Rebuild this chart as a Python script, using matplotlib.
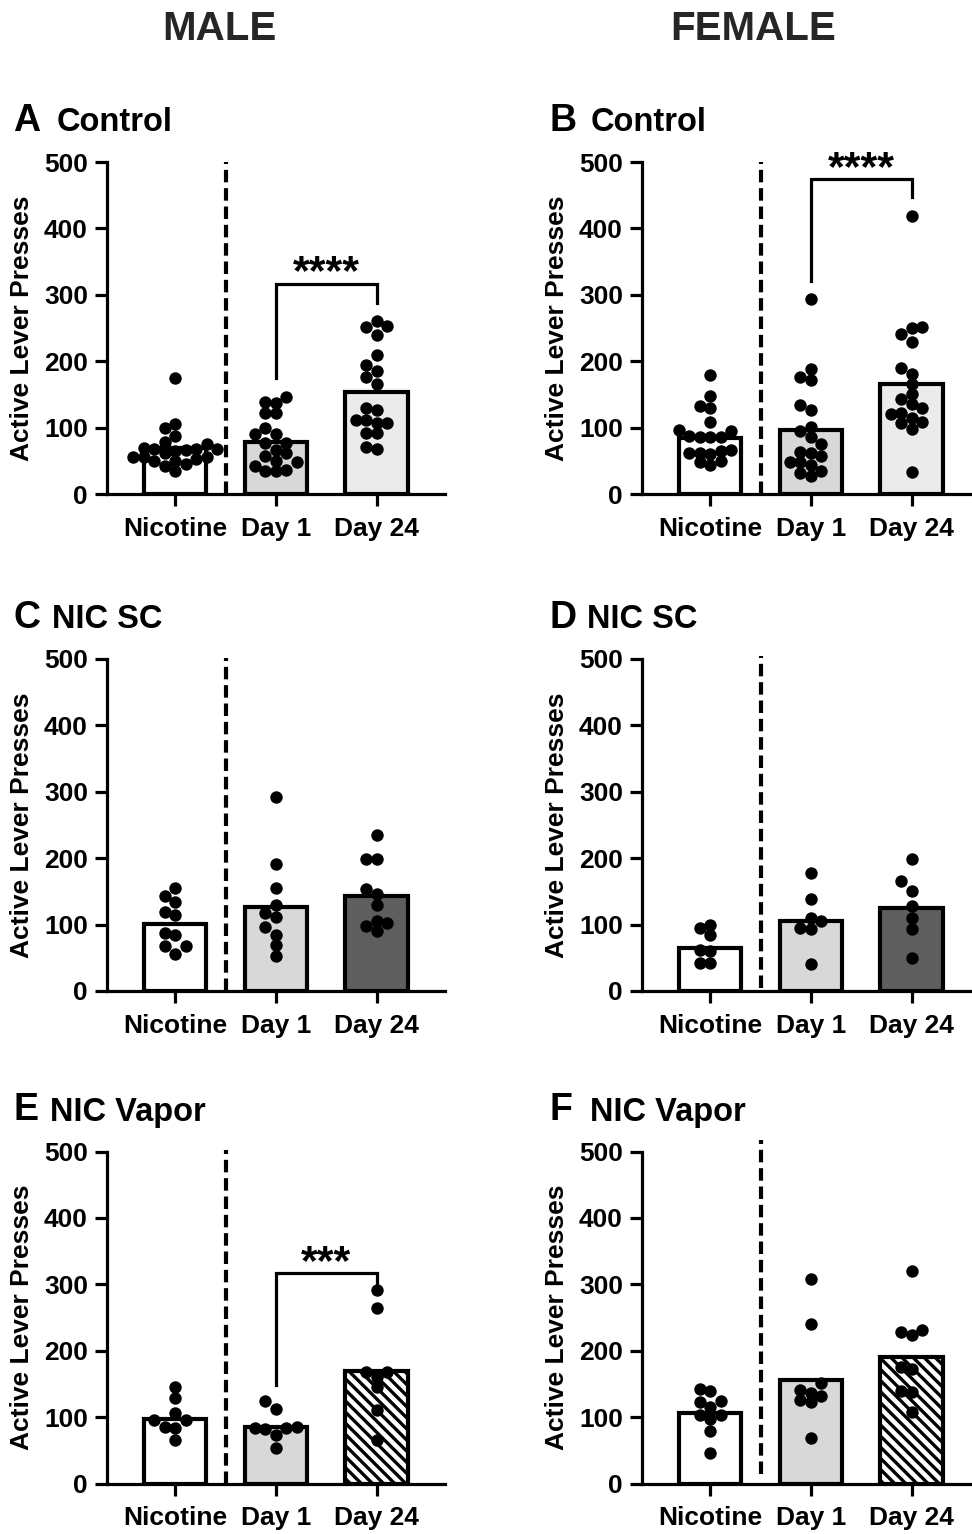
import numpy as np
import matplotlib
matplotlib.use('Agg')
import matplotlib.pyplot as plt

plt.rcParams['font.family'] = ['Liberation Sans', 'DejaVu Sans']
plt.rcParams['font.weight'] = 'bold'
plt.rcParams['hatch.linewidth'] = 2.4

groups = ['Nicotine', 'Day 1', 'Day 24']

# points, one list per group (Nicotine, Day 1, Day 24)
male_control = [
    [175, 105, 99, 87.5, 79, 76, 68.5, 65, 62.5, 66, 67.5, 67.5, 70, 50, 55, 52.5, 55, 50, 56, 35, 45, 42.5],
    [146.5, 136.5, 139, 121.5, 121.5, 100, 90, 90, 77.5, 77.5, 66, 62.5, 57.5, 50, 42.5, 47.5, 35, 36, 34],
    [261, 252.5, 251.5, 240, 210, 194, 185, 176.5, 165, 126, 130, 111, 111, 106.5, 107.5, 92.5, 92.5, 68.5, 71],
]
female_control = [
    [179, 147.5, 130, 132.5, 109, 95, 96, 86, 86, 86, 87.5, 60, 62.5, 62.5, 65, 66.5, 47.5, 50, 43.5],
    [293.5, 189, 171, 176, 134, 126.5, 101, 86, 95, 75, 57.5, 61, 44, 26.5, 47.5, 31, 63.5, 47.5, 34],
    [419, 251.5, 250, 241.5, 229, 190, 181, 166, 151, 142.5, 121, 135, 122.5, 107.5, 129, 115, 97.5, 109, 32.5],
]
male_sc = [
    [155, 143.5, 134.5, 119, 114, 88, 84, 68.5, 67.5, 56],
    [292, 192, 155, 129.5, 117, 111.5, 96.5, 84, 69, 52],
    [235, 199.5, 199.5, 154, 146, 130, 105.5, 90, 103, 98],
]
female_sc = [
    [99, 84, 95, 60, 61, 41.5, 41.5],
    [177, 139, 105, 110, 94, 95, 40],
    [199.5, 165, 151, 128, 110, 94, 49],
]
male_vapor = [
    [146, 128.5, 105.5, 95.5, 95.5, 85.5, 83, 65.5],
    [124, 112, 83, 84.5, 83, 81.5, 73, 53],
    [292, 264, 168.5, 168.5, 161, 146, 110, 65.5],
]
female_vapor = [
    [143, 139.5, 124.5, 122, 114.5, 103, 103, 97, 78.5, 46.5],
    [308, 240, 151, 132, 137, 122, 141, 125.5, 68],
    [319.5, 227.5, 224, 231.5, 176, 172, 139.5, 138.5, 107],
]

# bar heights (group means)
male_control_means = [70, 79, 153]
female_control_means = [84, 96, 165]
male_sc_means = [100.5, 126, 143.5]
female_sc_means = [65, 106, 125]
male_vapor_means = [97, 85, 170]
female_vapor_means = [106, 156, 190]

# significance brackets: (left leg bottom, right leg bottom, top, label)
male_control_sig = (175, 288, 317, '****')
female_control_sig = (321, 447, 474, '****')
male_vapor_sig = (148, 297, 317, '***')

W, H = 972, 1534
fig = plt.figure(figsize=(W / 100, H / 100), dpi=100)


def px_rect(left, bottom, width=338.3, height=332):
    return [left / W, 1 - bottom / H, width / W, height / H]


def swarm_offsets(values, step_px=10.5, px_per_unit=0.664, min_dist=9.8):
    # simple beeswarm: stack points sideways on a grid when they would overlap
    values = np.asarray(values, dtype=float)
    placed = []
    offsets = np.zeros(len(values))
    cand = [0, -1, 1, -2, 2, -3, 3, -4, 4, -5, 5, -6, 6]
    for i in np.argsort(values):
        y = values[i] * px_per_unit
        for c in cand:
            x = c * step_px
            if all((x - px) ** 2 + (y - py) ** 2 >= min_dist ** 2 for px, py in placed):
                break
        placed.append((x, y))
        offsets[i] = x / 100.7
    return offsets


def draw_panel(ax, points, means, day24, sig=None, dash=(0, 502)):
    x = np.arange(len(groups))
    fills = ['white', '#d8d8d8', day24.get('color', 'white')]
    hatches = [None, None, day24.get('hatch')]
    for i in x:
        ax.bar(i, means[i], width=0.62, color=fills[i], edgecolor='black', linewidth=3.0,
               hatch=hatches[i], zorder=2)
        offs = swarm_offsets(points[i])
        ax.scatter(i + offs, points[i], s=80, color='black', zorder=4, clip_on=False, linewidths=0)
    ax.plot([0.5, 0.5], dash, color='black', linewidth=3.0, dashes=(3.0, 1.4), clip_on=False, zorder=3)
    if sig:
        lo1, lo2, top, label = sig
        ax.plot([1, 1, 2, 2], [lo1, top, top, lo2], color='black', linewidth=2.3, clip_on=False,
                solid_joinstyle='miter', zorder=3)
        ax.text(1.5, top - 1, label, ha='center', va='baseline', fontsize=31, fontweight='bold',
                clip_on=False)
    ax.set_xlim(-0.68, 2.68)
    ax.set_ylim(0, 500)
    ax.set_yticks(range(0, 501, 100))
    ax.set_xticks(x)
    ax.set_xticklabels(groups)
    for s in ['top', 'right']:
        ax.spines[s].set_visible(False)
    for s in ['left', 'bottom']:
        ax.spines[s].set_linewidth(2.3)
    ax.tick_params(length=8.5, width=2.3, labelsize=19)
    ax.tick_params(axis='x', pad=8)
    ax.tick_params(axis='y', pad=5)
    for lab in ax.get_xticklabels() + ax.get_yticklabels():
        lab.set_fontweight('bold')
    ax.text(-0.25, 0.5, 'Active Lever Presses', transform=ax.transAxes, rotation=90,
            ha='center', va='center', fontsize=19, fontweight='bold')


panels = [
    ('A', 'Control', male_control, male_control_means, {'color': '#ebebeb'}, male_control_sig, (0, 500)),
    ('B', 'Control', female_control, female_control_means, {'color': '#ebebeb'}, female_control_sig, (0, 500)),
    ('C', 'NIC SC', male_sc, male_sc_means, {'color': '#5e5e5e'}, None, (0, 501)),
    ('D', 'NIC SC', female_sc, female_sc_means, {'color': '#5e5e5e'}, None, (5, 505)),
    ('E', 'NIC Vapor', male_vapor, male_vapor_means, {'color': 'white', 'hatch': '\\\\\\'}, male_vapor_sig, (0, 503)),
    ('F', 'NIC Vapor', female_vapor, female_vapor_means, {'color': 'white', 'hatch': '\\\\\\'}, None, (14, 517)),
]

col_left = [106.7, 641.7]
row_bottom = [494, 991, 1483.5]
letter_x = [13, 549]
title_x = [57, 591, 52, 587, 50, 590]

for k, (letter, title, pts, means, d24, sig, dash) in enumerate(panels):
    col, row = k % 2, k // 2
    ax = fig.add_axes(px_rect(col_left[col], row_bottom[row]))
    draw_panel(ax, pts, means, d24, sig, dash)
    base = row_bottom[row] - 332 - 31
    fig.text(letter_x[col] / W, 1 - base / H, letter, fontsize=27, fontweight='bold', va='baseline')
    fig.text(title_x[k] / W, 1 - base / H, title, fontsize=23.5, fontweight='bold', va='baseline')

fig.text(219 / W, 1 - 40 / H, 'MALE', fontsize=29, fontweight='bold', ha='center', va='baseline',
         color='#262626')
fig.text(753 / W, 1 - 40 / H, 'FEMALE', fontsize=29, fontweight='bold', ha='center', va='baseline',
         color='#262626')

fig.savefig('out.png', dpi=100)
